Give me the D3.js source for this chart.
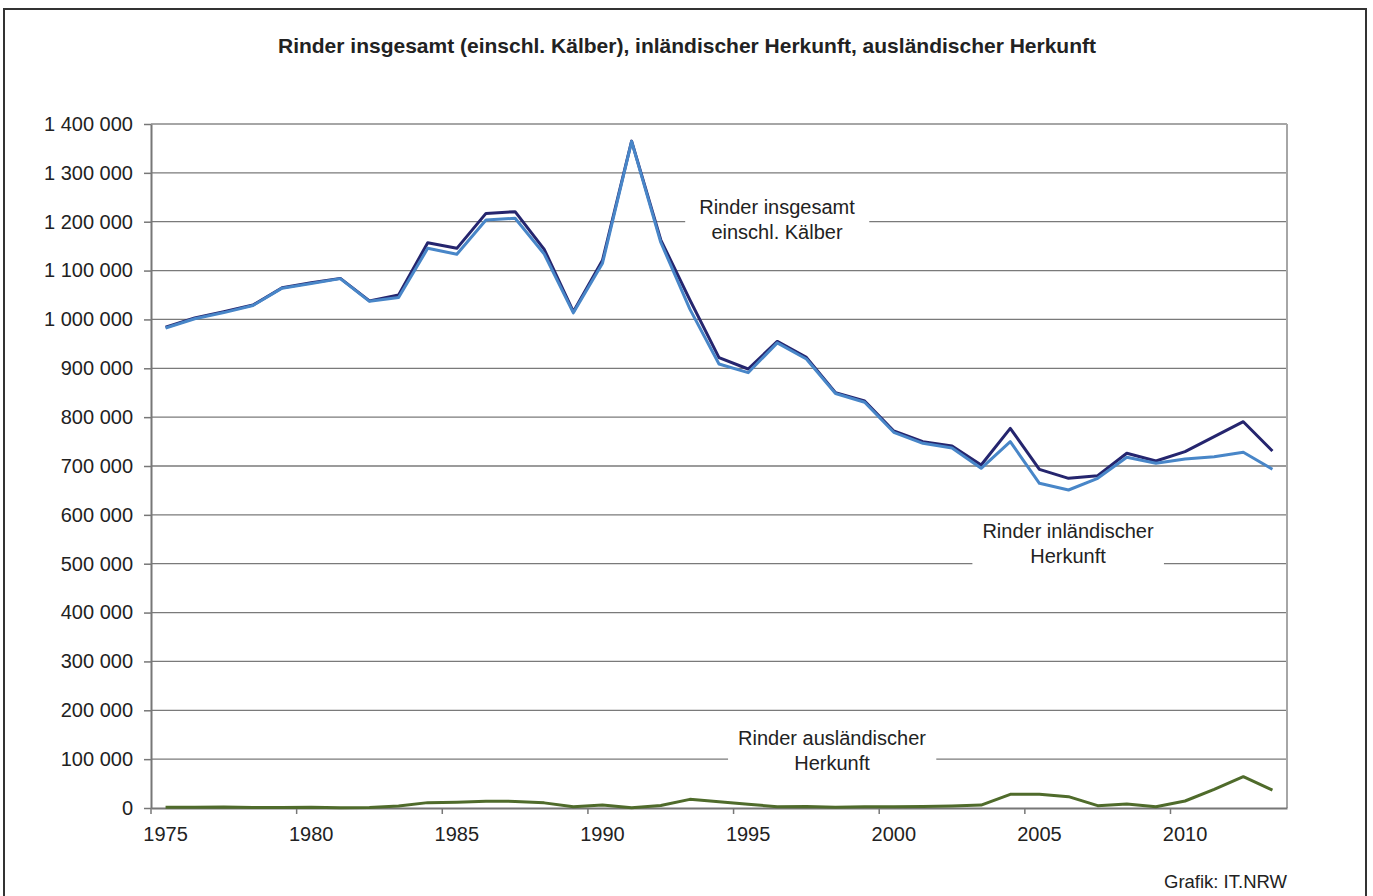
<!DOCTYPE html>
<html>
<head>
<meta charset="utf-8">
<script src="https://cdn.jsdelivr.net/npm/d3@7"></script>
<style>
  body { margin: 0; background: #fff; }
  svg text { font-family: "Liberation Sans", Arial, sans-serif; fill: #222; }
</style>
</head>
<body>
<div id="vis"></div>
<script>
// years 1975 .. 2013
var years = d3.range(1975, 2014);

// Rinder insgesamt (einschl. Kälber)
var total = [984000, 1003000, 1016000, 1029500, 1065000, 1075000, 1084000, 1038000, 1050000, 1157000,
             1145500, 1217000, 1220500, 1143500, 1015800, 1121000, 1365000, 1163000, 1040000, 921700,
             898500, 955000, 922400, 850000, 833000, 771600, 749800, 741000, 702000, 777100,
             693200, 674800, 680200, 726000, 710200, 729300, 760000, 790700, 730700];

// Rinder inländischer Herkunft
var inland = [982500, 1001500, 1014000, 1028500, 1064000, 1073500, 1083500, 1037000, 1045000, 1145500,
              1133500, 1203500, 1207000, 1134000, 1013500, 1115000, 1364300, 1158000, 1021000, 908800,
              891000, 952000, 919000, 848500, 830500, 769000, 746400, 737000, 695300, 749800,
              664600, 650900, 674800, 717800, 705500, 714300, 719000, 728000, 693200];

// Rinder ausländischer Herkunft
var foreign = [1500, 1500, 2000, 1000, 1000, 1500, 500, 1000, 4000, 11000,
               12000, 14000, 13500, 10500, 2700, 6100, 700, 5000, 17700, 13000,
               7500, 2700, 3000, 1500, 2500, 2500, 3000, 4000, 6000, 28000,
               28000, 23200, 4800, 8200, 2700, 14300, 38200, 64000, 36800];

var yTicks = d3.range(0, 1400001, 100000);
var xLabelYears = years.filter(function(d) { return d % 5 === 0; });

var title = "Rinder insgesamt (einschl. Kälber), inländischer Herkunft, ausländischer Herkunft";
var source = "Grafik: IT.NRW";

var W = 1373, H = 896;
var plot = {left: 151, right: 1287, top: 124, bottom: 808};

var svg = d3.select("#vis").append("svg")
    .attr("width", W)
    .attr("height", H);

/* outer frame */
svg.append("rect")
    .attr("x", 4).attr("y", 9)
    .attr("width", 1362).attr("height", H)
    .attr("fill", "none")
    .attr("stroke", "#333")
    .attr("stroke-width", 2);

svg.append("text")
    .attr("x", 687).attr("y", 53)
    .attr("text-anchor", "middle")
    .style("font-size", "21px")
    .style("font-weight", "bold")
    .text(title);

var x = d3.scaleBand()
    .domain(years)
    .range([plot.left, plot.right])
    .padding(0);

var y = d3.scaleLinear()
    .domain([0, 1400000])
    .range([plot.bottom, plot.top]);

var fmt = d3.formatLocale({decimal: ",", thousands: " ", grouping: [3], currency: ["", " €"]}).format(",d");

/* gridlines */
svg.append("g")
    .selectAll("line")
    .data(yTicks.filter(function(d) { return d > 0; }))
    .enter()
    .append("line")
    .attr("x1", plot.left).attr("x2", plot.right)
    .attr("y1", function(d) { return y(d); })
    .attr("y2", function(d) { return y(d); })
    .attr("stroke", function(d) { return d === 1400000 ? "#a6a6a6" : "#7a7a7a"; })
    .attr("stroke-width", function(d) { return d === 1400000 ? 2 : 1.3; });

/* right border of plot */
svg.append("line")
    .attr("x1", plot.right).attr("x2", plot.right)
    .attr("y1", plot.top).attr("y2", plot.bottom)
    .attr("stroke", "#a6a6a6")
    .attr("stroke-width", 2);

/* left axis */
var leftAxis = d3.axisLeft(y)
    .tickValues(yTicks)
    .tickFormat(fmt)
    .tickSize(7)
    .tickSizeOuter(0)
    .tickPadding(11);

var gy = svg.append("g")
    .attr("transform", "translate(" + plot.left + ",0)")
    .call(leftAxis);
gy.select(".domain").attr("stroke", "#777").attr("stroke-width", 2);
gy.selectAll(".tick line").attr("stroke", "#777").attr("stroke-width", 1.5);
gy.selectAll(".tick text").style("font-size", "20px").attr("fill", "#222");

/* bottom axis, ticks between categories */
var bottomAxis = d3.axisBottom(x)
    .tickValues(xLabelYears)
    .tickSize(6)
    .tickSizeOuter(0)
    .tickPadding(13);

var gx = svg.append("g")
    .attr("transform", "translate(0," + plot.bottom + ")")
    .call(bottomAxis);
gx.select(".domain").attr("stroke", "#777").attr("stroke-width", 2);
gx.selectAll(".tick line")
    .attr("transform", "translate(" + (-x.bandwidth() / 2) + ",0)")
    .attr("stroke", "#777").attr("stroke-width", 1.5);
gx.selectAll(".tick text").style("font-size", "20px").attr("fill", "#222");

/* lines */
var series = [
    {name: "foreign", values: foreign, color: "#4f6b2b"},
    {name: "total", values: total, color: "#25256e"},
    {name: "inland", values: inland, color: "#4886c8"}
];

var line = d3.line()
    .x(function(d, i) { return x(years[i]) + x.bandwidth() / 2; })
    .y(function(d) { return y(d); });

svg.selectAll(".series")
    .data(series)
    .enter()
    .append("path")
    .attr("class", "series")
    .attr("d", function(d) { return line(d.values); })
    .attr("fill", "none")
    .attr("stroke", function(d) { return d.color; })
    .attr("stroke-width", 3)
    .attr("stroke-linejoin", "round");

/* annotation labels with white boxes */
var notes = [
    {lines: ["Rinder insgesamt", "einschl. Kälber"], cx: 777, cy: 219, pad: 14},
    {lines: ["Rinder inländischer", "Herkunft"], cx: 1068, cy: 543, pad: 10},
    {lines: ["Rinder ausländischer", "Herkunft"], cx: 832, cy: 750, pad: 10}
];

notes.forEach(function(n) {
    var g = svg.append("g");
    var box = g.append("rect").attr("fill", "#fff");
    var t = g.append("text")
        .attr("text-anchor", "middle")
        .style("font-size", "20px");
    n.lines.forEach(function(s, i) {
        t.append("tspan")
            .attr("x", n.cx)
            .attr("y", n.cy - 12 + i * 25)
            .attr("dy", "0.35em")
            .text(s);
    });
    var bb = t.node().getBBox();
    box.attr("x", bb.x - n.pad).attr("y", bb.y - 3)
        .attr("width", bb.width + 2 * n.pad).attr("height", bb.height + 6);
});

svg.append("text")
    .attr("x", 1287).attr("y", 888)
    .attr("text-anchor", "end")
    .style("font-size", "18.5px")
    .text(source);
</script>
</body>
</html>
